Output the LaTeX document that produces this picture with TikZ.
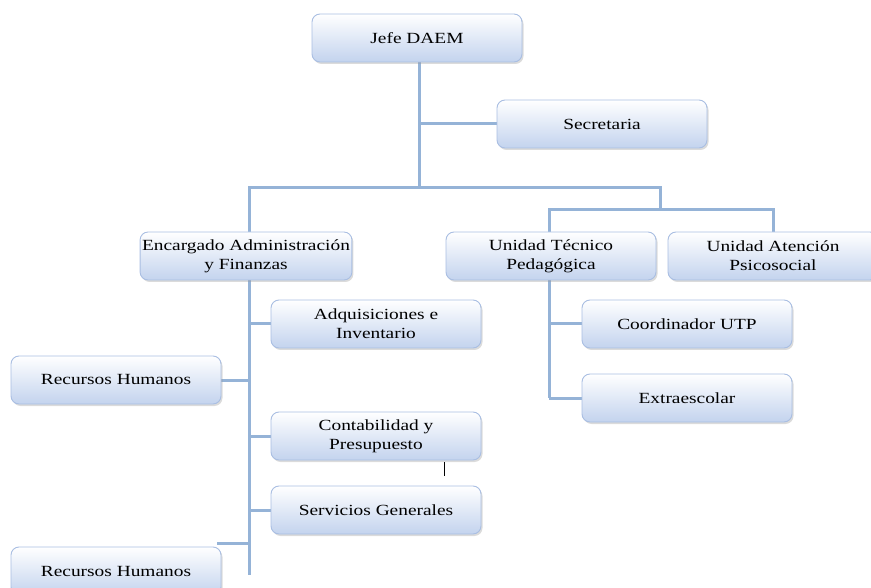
\documentclass[tikz,border=0pt]{standalone}
\usepackage{fontspec}
\setmainfont[FakeStretch=1.25]{Liberation Serif}
\usetikzlibrary{shadows,backgrounds}
\definecolor{lineblue}{HTML}{95B3D7}
\definecolor{boxedge}{HTML}{A9BEE2}
\definecolor{boxbot}{HTML}{C3D3EE}
\tikzset{
  box/.style={draw=boxedge, line width=0.9pt, rounded corners=8pt, top color=white, bottom color=boxbot,
    minimum width=210pt, minimum height=48pt, align=center, inner sep=2pt,
    font=\fontsize{15.5}{19}\selectfont, text=black,
    drop shadow={shadow xshift=1.5pt, shadow yshift=-2pt, opacity=0.35, fill=black!40}},
  conn/.style={draw=lineblue, line width=3pt},
  tick/.style={draw=black, line width=1pt}
}
\begin{document}
\begin{tikzpicture}[x=1pt,y=-1pt]
\useasboundingbox (0,0) rectangle (871,588);
\coordinate (jb) at (419,188);
\coordinate (hr) at (660,188);
\coordinate (hr2) at (660,210);
\coordinate (et) at (249,575);
\coordinate (ut) at (549,398);
\coordinate (rh2c) at (217,543);
\coordinate (tk1) at (444,462);
\coordinate (tk2) at (444,476);

\node[box] (jefe) at (417,38) {Jefe DAEM};
\node[box] (secr) at (602,124) {Secretaria};
\node[box] (enc) at (246,256) {Encargado Administración\\y Finanzas};
\node[box] (utp) at (551,256) {Unidad Técnico\\Pedagógica};
\node[box] (uap) at (773,256) {Unidad Atención\\Psicosocial};
\node[box] (adq) at (376,324) {Adquisiciones e\\Inventario};
\node[box] (rh1) at (116,380) {Recursos Humanos};
\node[box] (cont) at (376,436) {Contabilidad y\\Presupuesto};
\node[box] (serv) at (376,510) {Servicios Generales};
\node[box] (rh2) at (116,571) {Recursos Humanos};
\node[box] (coord) at (687,324) {Coordinador UTP};
\node[box] (extra) at (687,398) {Extraescolar};

\begin{scope}[on background layer]
% top trunk
\draw[conn] (jefe.south -| jb) -- (jb);
\draw[conn] (secr.west -| jb) -- (secr.west);
\draw[conn] (enc.north -| et) |- (hr) -- (hr2);
\draw[conn] (utp.north -| ut) |- (hr2) -| (uap.north);
% UTP branch
\draw[conn] (utp.south -| ut) -- (ut);
\draw[conn] (coord.west -| ut) -- (coord.west);
\draw[conn] (ut) -- (extra.west);
% Encargado branch
\draw[conn] (enc.south -| et) -- (et);
\draw[conn] (adq.west -| et) -- (adq.west);
\draw[conn] (rh1.east) -- (rh1.east -| et);
\draw[conn] (cont.west -| et) -- (cont.west);
\draw[conn] (serv.west -| et) -- (serv.west);
\draw[conn] (rh2c) -- (rh2c -| et);
\end{scope}
\draw[tick] (tk1) -- (tk2);
\end{tikzpicture}
\end{document}
